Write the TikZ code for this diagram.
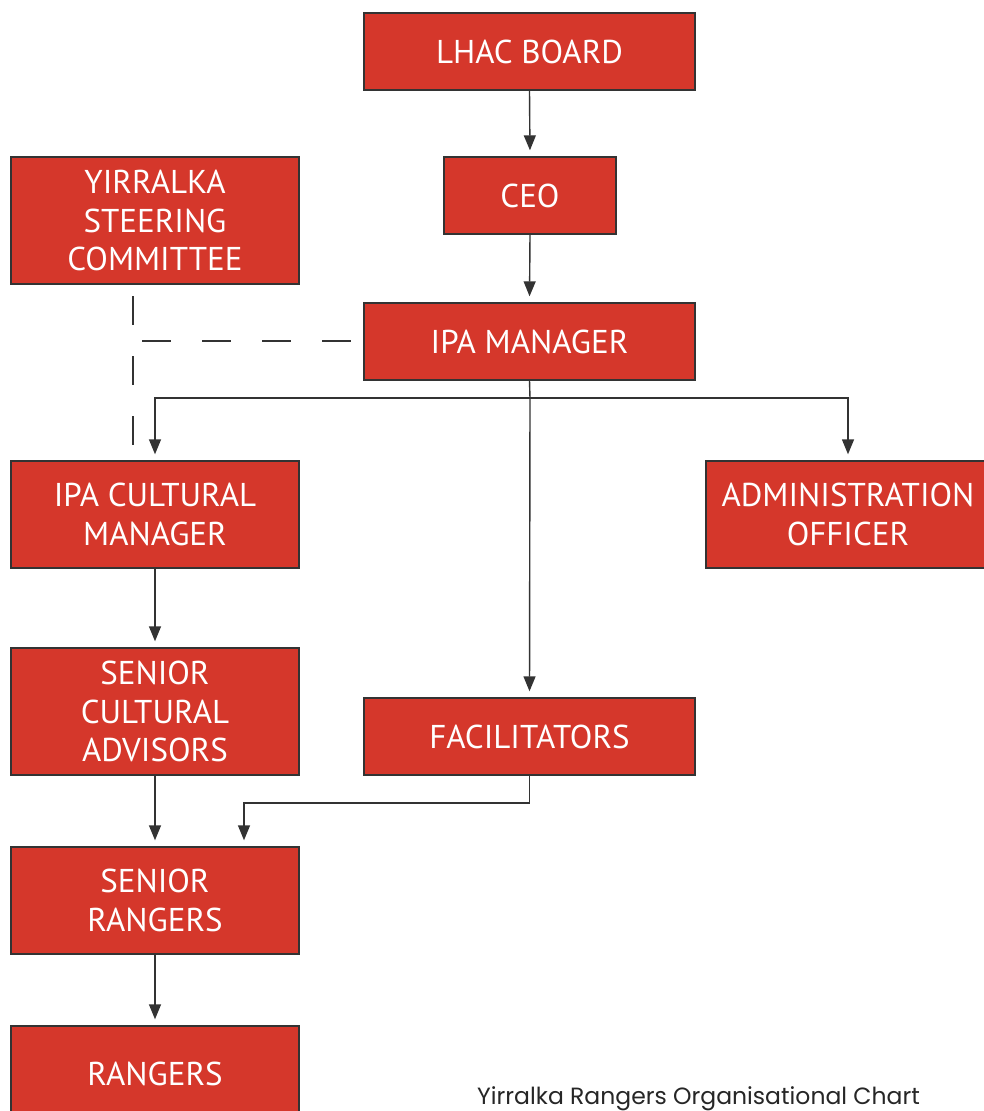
\documentclass[tikz,border=0pt]{standalone}
\usepackage{fontspec}
\setmainfont{PT Sans}
\newfontfamily\capfont{Poppins}
\usetikzlibrary{arrows.meta}
\definecolor{boxred}{HTML}{D5372B}
\definecolor{linegray}{HTML}{333333}
\tikzset{
  box/.style={draw=linegray, line width=1.4pt, fill=boxred, text=white, align=center,
    inner sep=0pt, font=\fontsize{33}{38.5}\selectfont},
  conn/.style={draw=linegray, line width=1.4pt},
  arr/.style={conn, -{Triangle[width=12pt,length=15pt]}, shorten >=6pt},
  dashline/.style={draw=linegray, line width=1.4pt, dash pattern=on 29pt off 31pt}
}
\begin{document}
\begin{tikzpicture}[x=1pt,y=-1pt]
\useasboundingbox (0,0) rectangle (984,1111);
\node[box, minimum width=331pt, minimum height=77pt] (lhac) at (529.5,51.5) {LHAC BOARD};
\node[box, minimum width=172pt, minimum height=77pt] (ceo) at (530,195.5) {CEO};
\node[box, minimum width=288pt, minimum height=127pt] (ysc) at (155,220.5) {YIRRALKA\\STEERING\\COMMITTEE};
\node[box, minimum width=331pt, minimum height=77pt] (ipa) at (529.5,341.5) {IPA MANAGER};
\node[box, minimum width=288pt, minimum height=107pt] (cult) at (155,514.5) {IPA CULTURAL\\MANAGER};
\node[box, minimum width=284pt, minimum height=107pt] (admin) at (848,514.5) {ADMINISTRATION\\OFFICER};
\node[box, minimum width=288pt, minimum height=127pt] (sca) at (155,711.5) {SENIOR\\CULTURAL\\ADVISORS};
\node[box, minimum width=331pt, minimum height=77pt] (fac) at (529.5,736.5) {FACILITATORS};
\node[box, minimum width=288pt, minimum height=107pt] (sr) at (155,900.5) {SENIOR\\RANGERS};
\node[box, minimum width=288pt, minimum height=95pt] (rang) at (155,1073.5) {RANGERS};
\node[anchor=base west, inner sep=0pt, font=\capfont\fontsize{23.5}{28}\selectfont, text=black!85] (cap) at (477,1104) {Yirralka Rangers Organisational Chart};

\coordinate (bus) at (530,398);
\coordinate (jfac) at (244,803);
\coordinate (dtop) at (133,296);
\coordinate (dbot) at (133,448);
\coordinate (hleft) at (142,341);
\coordinate (hright) at (352,341);

\draw[arr] (lhac.south) -- (ceo.north);
\draw[arr] (ceo.south) -- (ipa.north);
\draw[conn] (ipa.south) -- (bus);
\draw[arr] (bus) -| (cult.north);
\draw[arr] (bus) -| (admin.north);
\draw[arr] (bus) -- (fac.north);
\draw[arr] (cult.south) -- (sca.north);
\draw[arr] (sca.south) -- (sr.north);
\draw[arr] (fac.south) |- (jfac) -- (jfac |- sr.north);
\draw[arr] (sr.south) -- (rang.north);
\draw[dashline] (dtop) -- (dbot);
\draw[dashline] (hleft) -- (hright);
\end{tikzpicture}
\end{document}
